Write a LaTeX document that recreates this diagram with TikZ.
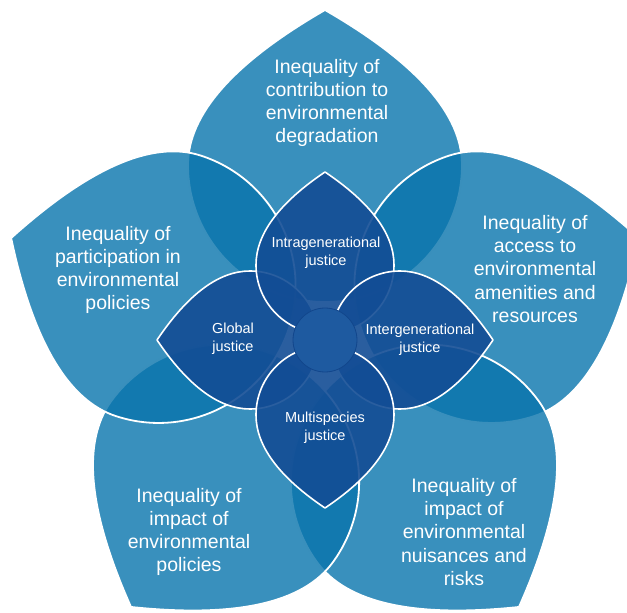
\documentclass[tikz,border=0pt]{standalone}
\usepackage{fontspec}
\setmainfont{Liberation Sans}
\usepackage{tikz}
\definecolor{cPetal}{RGB}{8,116,172}
\definecolor{cJust}{RGB}{19,77,149}
\definecolor{cHub}{RGB}{30,90,160}
\definecolor{cHubEdge}{RGB}{18,70,140}

\begin{document}
\begin{tikzpicture}[x=1pt, y=1pt,
    every node/.style={inner sep=0pt, outer sep=0pt},
    bigpetal/.style ={fill=cPetal, fill opacity=.8, draw=white, line width=1.8pt,
                      line join=round},
    justpetal/.style={fill=cJust, fill opacity=.9, draw=white, line width=1.6pt,
                      line join=round},
    hub/.style      ={circle, fill=cHub, draw=cHubEdge, line width=.8pt,
                      minimum size=64pt},
    ineqtxt/.style  ={align=center, text=white, font=\fontsize{19.5}{23.3}\selectfont},
    justtxt/.style  ={align=center, text=white, font=\fontsize{14.5}{18}\selectfont}]

% outer petals: tip, centre, radius, and the two curve controls (x)
\def\BT{330} \def\BC{175} \def\BR{137} \def\BA{277.3} \def\BB{225.7} \def\BH{91.3}
% inner petals
\def\JT{168} \def\JC{75}  \def\JR{69}  \def\JA{137}   \def\JB{106}   \def\JH{46}

\useasboundingbox (-325,-273) rectangle (302,340);
\clip (-325,-273) rectangle (302,340);

% ── outer petals, clockwise from the top ────────────────────────────────
\foreach \a in {90,18,-54,-126,162} {
  \draw[bigpetal, rotate=\a] (\BT,0) .. controls (\BA,\BH) and (\BB,\BR) .. (\BC,\BR)
    arc[start angle=90, end angle=270, radius=\BR]
    .. controls (\BB,-\BR) and (\BA,-\BH) .. (\BT,0) -- cycle;
}

% ── inner petals (justice), clockwise from the left ─────────────────────
\foreach \a in {180,90,0,-90} {
  \draw[justpetal, rotate=\a] (\JT,0) .. controls (\JA,\JH) and (\JB,\JR) .. (\JC,\JR)
    arc[start angle=90, end angle=270, radius=\JR]
    .. controls (\JB,-\JR) and (\JA,-\JH) .. (\JT,0) -- cycle;
}
\node[hub] (hub) at (0,0) {};

% ── labels ──────────────────────────────────────────────────────────────
\node[ineqtxt] (contrib) at (2,237)
  {Inequality of\\contribution to\\environmental\\degradation};
\node[ineqtxt] (partic)  at (-207,70)
  {Inequality of\\participation in\\environmental\\policies};
\node[ineqtxt] (access)  at (210,71)
  {Inequality of\\access to\\environmental\\amenities and\\resources};
\node[ineqtxt] (imppol)  at (-136,-192)
  {Inequality of\\impact of\\environmental\\policies};
\node[ineqtxt] (nuis)    at (139,-192)
  {Inequality of\\impact of\\environmental\\nuisances and\\risks};

\node[justtxt] (intra)  at (1,87)   {Intragenerational\\justice};
\node[justtxt] (global) at (-92,1)  {Global\\justice};
\node[justtxt] (inter)  at (95,0)   {Intergenerational\\justice};
\node[justtxt] (multi)  at (0,-88)  {Multispecies\\justice};
\end{tikzpicture}
\end{document}
